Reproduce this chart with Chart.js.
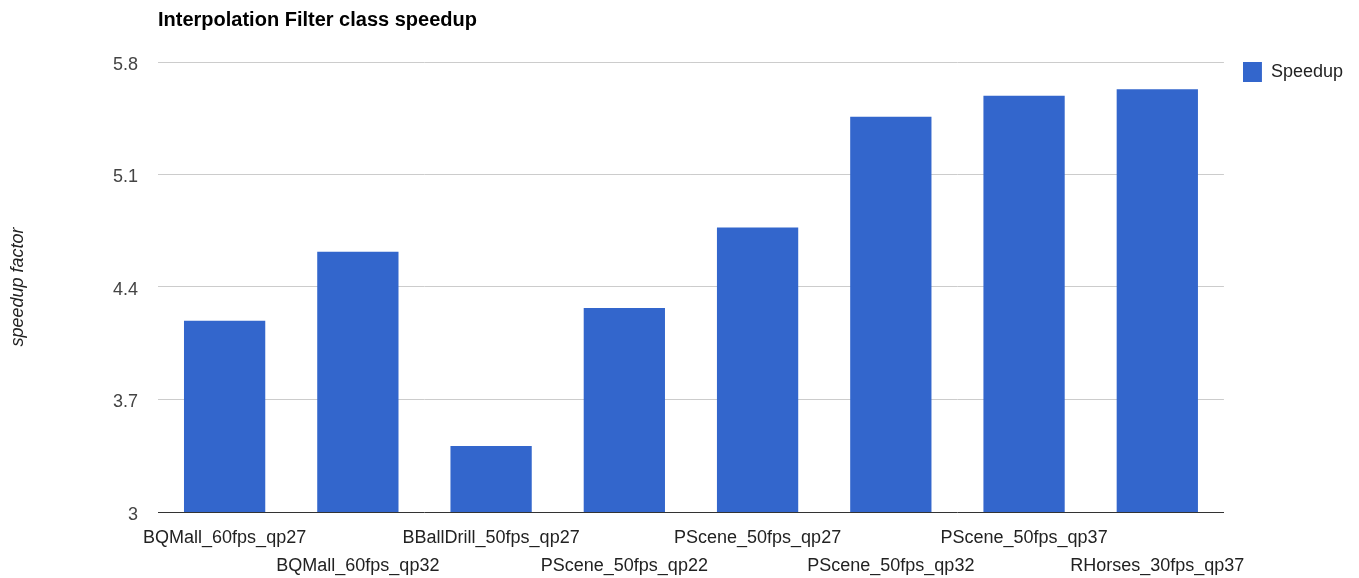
<!DOCTYPE html>
<html>
<head>
<meta charset="utf-8">
<script src="https://cdn.jsdelivr.net/npm/chart.js@4/dist/chart.umd.min.js"></script>
<style>
  html, body { margin: 0; padding: 0; background: #fff; }
  #wrap { width: 1359px; height: 578px; }
</style>
</head>
<body>
<div id="wrap"><canvas id="myChart" width="1359" height="578"></canvas></div>
<script>
var categories = [
  "BQMall_60fps_qp27", "BQMall_60fps_qp32", "BBallDrill_50fps_qp27", "PScene_50fps_qp22",
  "PScene_50fps_qp27", "PScene_50fps_qp32", "PScene_50fps_qp37", "RHorses_30fps_qp37"
];
var speedup = [4.19, 4.62, 3.41, 4.27, 4.77, 5.46, 5.59, 5.63];
var yTicks = [3, 3.7, 4.4, 5.1, 5.8];

// google-style staggered labels: even ones on the first row, odd ones on the second
var labels = categories.map(function (c, i) {
  return i % 2 === 0 ? [c, ""] : ["", c];
});

Chart.defaults.font.family = "'Liberation Sans', Arial, sans-serif";
Chart.defaults.font.size = 18;

var ctx = document.getElementById("myChart").getContext("2d");
var chart = new Chart(ctx, {
  type: "bar",
  data: {
    labels: labels,
    datasets: [{
      label: "Speedup",
      data: speedup,
      backgroundColor: "#3366cc",
      borderWidth: 0,
      categoryPercentage: 1,
      barPercentage: 0.61
    }]
  },
  options: {
    responsive: false,
    animation: false,
    layout: { padding: { left: 0, right: 6, top: 0, bottom: 0 } },
    plugins: {
      title: {
        display: true,
        text: "Interpolation Filter class speedup",
        align: "start",
        fullSize: false,
        color: "#000",
        font: { size: 20, weight: "bold" },
        padding: { top: 8, bottom: 30 }
      },
      legend: {
        position: "right",
        align: "start",
        fullSize: false,
        labels: {
          boxWidth: 19,
          boxHeight: 20,
          padding: 0,
          color: "#222",
          font: { size: 18 }
        }
      },
      tooltip: { enabled: false }
    },
    scales: {
      x: {
        grid: { display: false },
        border: { display: true, color: "#333", width: 1 },
        ticks: {
          color: "#222",
          autoSkip: false,
          maxRotation: 0,
          minRotation: 0,
          padding: 4,
          font: { size: 18, lineHeight: 1.556 }
        },
        afterFit: function (s) { s.height = 66; }
      },
      y: {
        min: 3,
        max: 5.8,
        afterBuildTicks: function (s) {
          s.ticks = yTicks.map(function (v) { return { value: v }; });
        },
        grid: {
          drawTicks: false,
          color: function (c) { return c.tick && c.tick.value === 3 ? "rgba(0,0,0,0)" : "#ccc"; }
        },
        border: { display: false },
        ticks: {
          color: "#444",
          padding: 20,
          labelOffset: 3,
          callback: function (v) { return String(v); }
        },
        title: {
          display: true,
          text: "speedup factor",
          color: "#222",
          font: { size: 18, style: "italic" },
          padding: { top: 7, bottom: 0 }
        },
        afterFit: function (s) { s.width = 158; }
      },
      gap: {
        position: "right",
        display: true,
        grid: { display: false },
        border: { display: false },
        ticks: { display: false },
        afterFit: function (s) { s.width = 19; }
      }
    }
  }
});
</script>
</body>
</html>
